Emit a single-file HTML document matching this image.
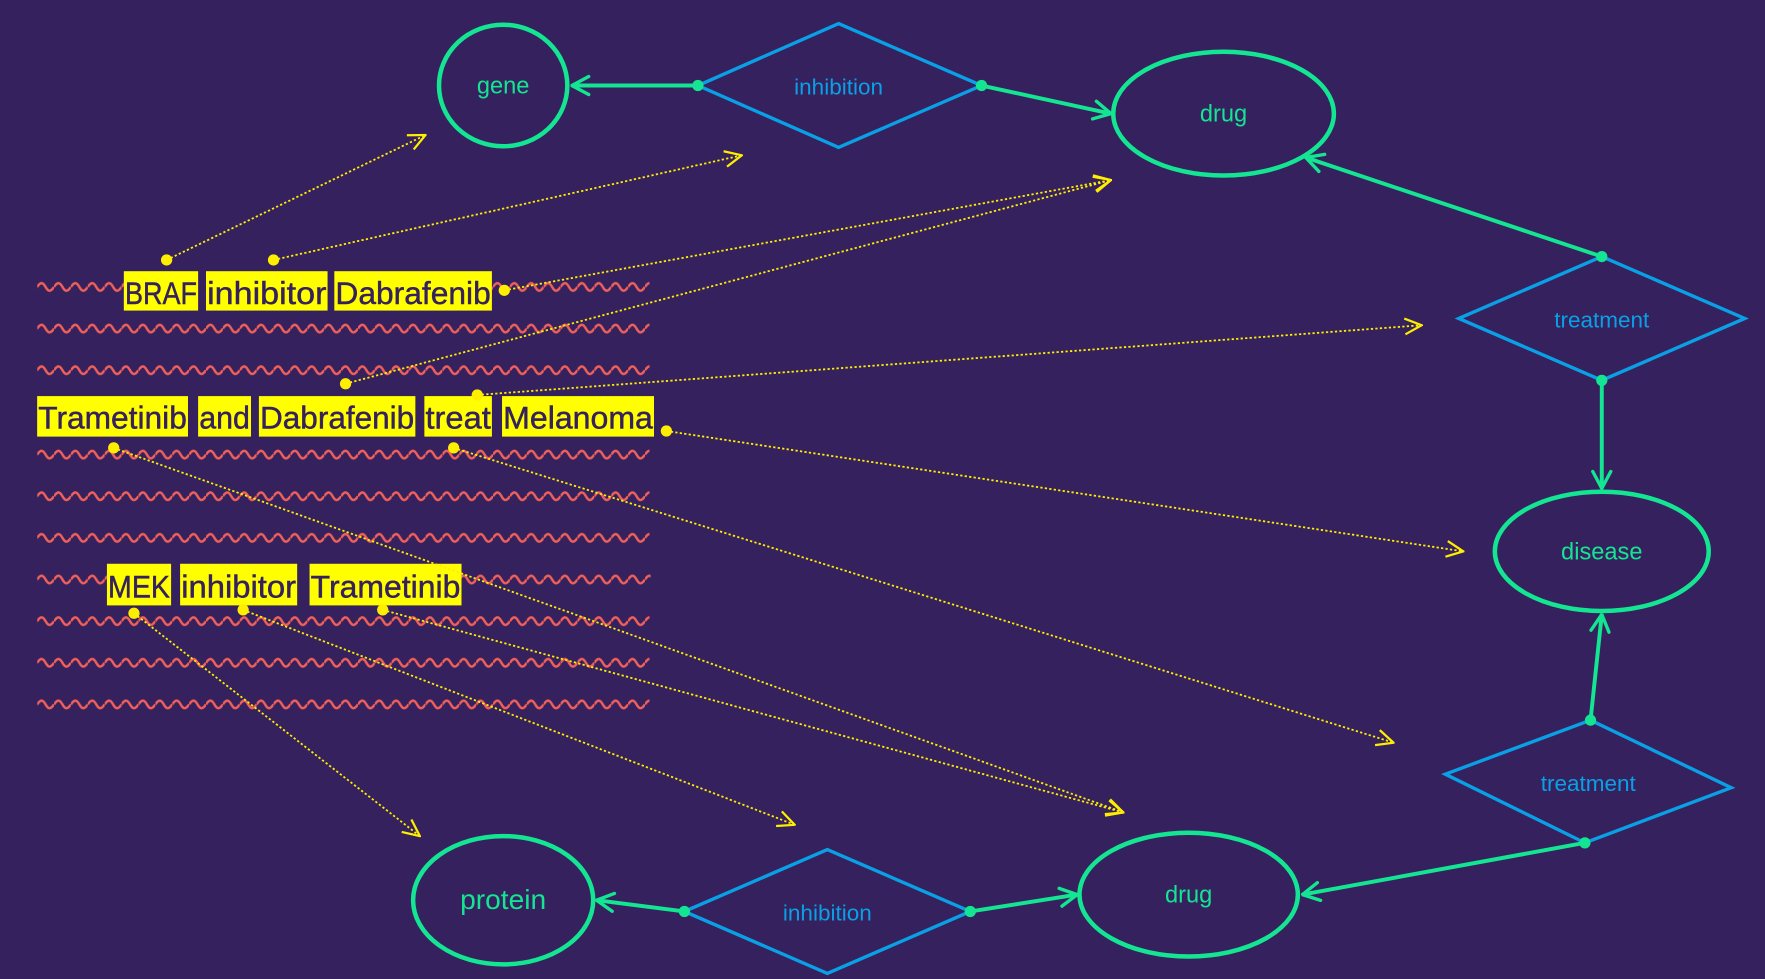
<!DOCTYPE html>
<html><head><meta charset="utf-8"><style>
html,body{margin:0;padding:0;background:#35215d;}
svg{display:block;}
</style></head><body>
<svg width="1765" height="979" viewBox="0 0 1568 870" preserveAspectRatio="none" xmlns="http://www.w3.org/2000/svg" font-family="Liberation Sans, DejaVu Sans, sans-serif">
<defs>
<pattern id="wave" x="0" y="0" width="15" height="10" patternUnits="userSpaceOnUse">
<path d="M0,5 C3,0.5 5,0.5 7.5,5 C10,9.5 12,9.5 15,5" fill="none" stroke="#f0605a" stroke-width="2.2"/>
</pattern>
<marker id="ga" viewBox="0 0 20 20" refX="19" refY="10" markerWidth="20" markerHeight="20" markerUnits="userSpaceOnUse" orient="auto">
<path d="M4,2 L19,10 L4,18" fill="none" stroke="#14e592" stroke-width="3" stroke-linecap="round"/>
</marker>
<marker id="ya" viewBox="0 0 20 20" refX="19" refY="10" markerWidth="20" markerHeight="20" markerUnits="userSpaceOnUse" orient="auto">
<path d="M4,3 L19,10 L4,17" fill="none" stroke="#ffee00" stroke-width="2"/>
</marker>
</defs>
<rect width="1568" height="870" fill="#35215d"/>

<!-- wavy lines -->
<g fill="url(#wave)">
<g transform="translate(33,250)"><rect x="0" y="0" width="78" height="10"/><rect x="404" y="0" width="140" height="10"/></g>
<g transform="translate(33,287)"><rect width="544" height="10"/></g>
<g transform="translate(33,324)"><rect width="544" height="10"/></g>
<g transform="translate(33,399)"><rect width="544" height="10"/></g>
<g transform="translate(33,436)"><rect width="544" height="10"/></g>
<g transform="translate(33,473)"><rect width="544" height="10"/></g>
<g transform="translate(33,510)"><rect width="62" height="10"/><rect x="377" width="168" height="10"/></g>
<g transform="translate(33,547)"><rect width="544" height="10"/></g>
<g transform="translate(33,584)"><rect width="544" height="10"/></g>
<g transform="translate(33,621)"><rect width="544" height="10"/></g>
</g>

<!-- text boxes -->
<g fill="#ffff00">
<rect x="110" y="241" width="66" height="35"/>
<rect x="183" y="241" width="108" height="35"/>
<rect x="297" y="241" width="140" height="35"/>
<rect x="33" y="352" width="134" height="36"/>
<rect x="176" y="352" width="47" height="36"/>
<rect x="230" y="352" width="139" height="36"/>
<rect x="377" y="352" width="60" height="36"/>
<rect x="446" y="352" width="135" height="36"/>
<rect x="95" y="501" width="57" height="37"/>
<rect x="160" y="501" width="104" height="37"/>
<rect x="275" y="501" width="135" height="37"/>
</g>
<g fill="#35215d" font-size="28" stroke="#35215d" stroke-width="0.4">
<text x="111" y="270" textLength="64" lengthAdjust="spacingAndGlyphs">BRAF</text>
<text x="184" y="270" textLength="106" lengthAdjust="spacingAndGlyphs">inhibitor</text>
<text x="298" y="270" textLength="138" lengthAdjust="spacingAndGlyphs">Dabrafenib</text>
<text x="34" y="381" textLength="132" lengthAdjust="spacingAndGlyphs">Trametinib</text>
<text x="177" y="381" textLength="45" lengthAdjust="spacingAndGlyphs">and</text>
<text x="231" y="381" textLength="137" lengthAdjust="spacingAndGlyphs">Dabrafenib</text>
<text x="378" y="381" textLength="58" lengthAdjust="spacingAndGlyphs">treat</text>
<text x="447" y="381" textLength="133" lengthAdjust="spacingAndGlyphs">Melanoma</text>
<text x="96" y="531" textLength="55" lengthAdjust="spacingAndGlyphs">MEK</text>
<text x="161" y="531" textLength="102" lengthAdjust="spacingAndGlyphs">inhibitor</text>
<text x="276" y="531" textLength="133" lengthAdjust="spacingAndGlyphs">Trametinib</text>
</g>

<!-- dotted yellow links -->
<g stroke="#ffee00" stroke-width="1.6" stroke-dasharray="2 2" fill="none" marker-end="url(#ya)">
<line x1="148" y1="231" x2="378" y2="120"/>
<line x1="243" y1="231" x2="659" y2="138"/>
<line x1="448" y1="258" x2="987" y2="160"/>
<line x1="307" y1="341" x2="987" y2="160"/>
<line x1="424" y1="351" x2="1263" y2="289"/>
<line x1="592" y1="383" x2="1300" y2="490"/>
<line x1="101" y1="398" x2="998" y2="722"/>
<line x1="403" y1="398" x2="1238" y2="660"/>
<line x1="119" y1="545" x2="373" y2="743"/>
<line x1="216" y1="542" x2="706" y2="733"/>
<line x1="340" y1="542" x2="998" y2="722"/>
</g>
<g fill="#ffee00">
<circle cx="148" cy="231" r="5"/><circle cx="243" cy="231" r="5"/><circle cx="448" cy="258" r="5"/>
<circle cx="307" cy="341" r="5"/><circle cx="424" cy="351" r="5"/><circle cx="592" cy="383" r="5"/>
<circle cx="101" cy="398" r="5"/><circle cx="403" cy="398" r="5"/><circle cx="119" cy="545" r="5"/>
<circle cx="216" cy="542" r="5"/><circle cx="340" cy="542" r="5"/>
</g>

<!-- graph nodes -->
<g fill="none" stroke="#14e592" stroke-width="4">
<ellipse cx="447" cy="76" rx="57" ry="54"/>
<ellipse cx="1087" cy="101" rx="98" ry="55"/>
<ellipse cx="1423" cy="490" rx="95" ry="53"/>
<ellipse cx="1056" cy="795" rx="97" ry="55"/>
<ellipse cx="447" cy="800" rx="80" ry="57"/>
</g>
<g fill="none" stroke="#0aa0e6" stroke-width="3">
<polygon points="620,76 745,21 872,76 745,131"/>
<polygon points="1296,283 1423,228 1550,283 1423,338"/>
<polygon points="1284,688 1413,640 1538,700 1408,749"/>
<polygon points="608,810 735,755 862,810 735,865"/>
</g>

<!-- green edges -->
<g stroke="#14e592" stroke-width="3.5" fill="none" marker-end="url(#ga)">
<line x1="620" y1="76" x2="508" y2="76"/>
<line x1="872" y1="76" x2="987" y2="101"/>
<line x1="1423" y1="228" x2="1160" y2="140"/>
<line x1="1423" y1="338" x2="1423" y2="434"/>
<line x1="1413" y1="640" x2="1423" y2="546"/>
<line x1="1408" y1="749" x2="1157" y2="795"/>
<line x1="862" y1="810" x2="957" y2="795"/>
<line x1="608" y1="810" x2="530" y2="800"/>
</g>
<g fill="#14e592">
<circle cx="620" cy="76" r="5"/><circle cx="872" cy="76" r="5"/>
<circle cx="1423" cy="228" r="5"/><circle cx="1423" cy="338" r="5"/>
<circle cx="1413" cy="640" r="5"/><circle cx="1408" cy="749" r="5"/>
<circle cx="862" cy="810" r="5"/><circle cx="608" cy="810" r="5"/>
</g>

<!-- labels -->
<g fill="#14e592" text-anchor="middle" font-size="21">
<text x="447" y="83">gene</text>
<text x="1087" y="108">drug</text>
<text x="1423" y="497">disease</text>
<text x="1056" y="802">drug</text>
<text x="447" y="808" font-size="25">protein</text>
</g>
<g fill="#0aa0e6" text-anchor="middle" font-size="20">
<text x="745" y="84">inhibition</text>
<text x="1423" y="291">treatment</text>
<text x="1411" y="703">treatment</text>
<text x="735" y="818">inhibition</text>
</g>
</svg>
</body></html>
